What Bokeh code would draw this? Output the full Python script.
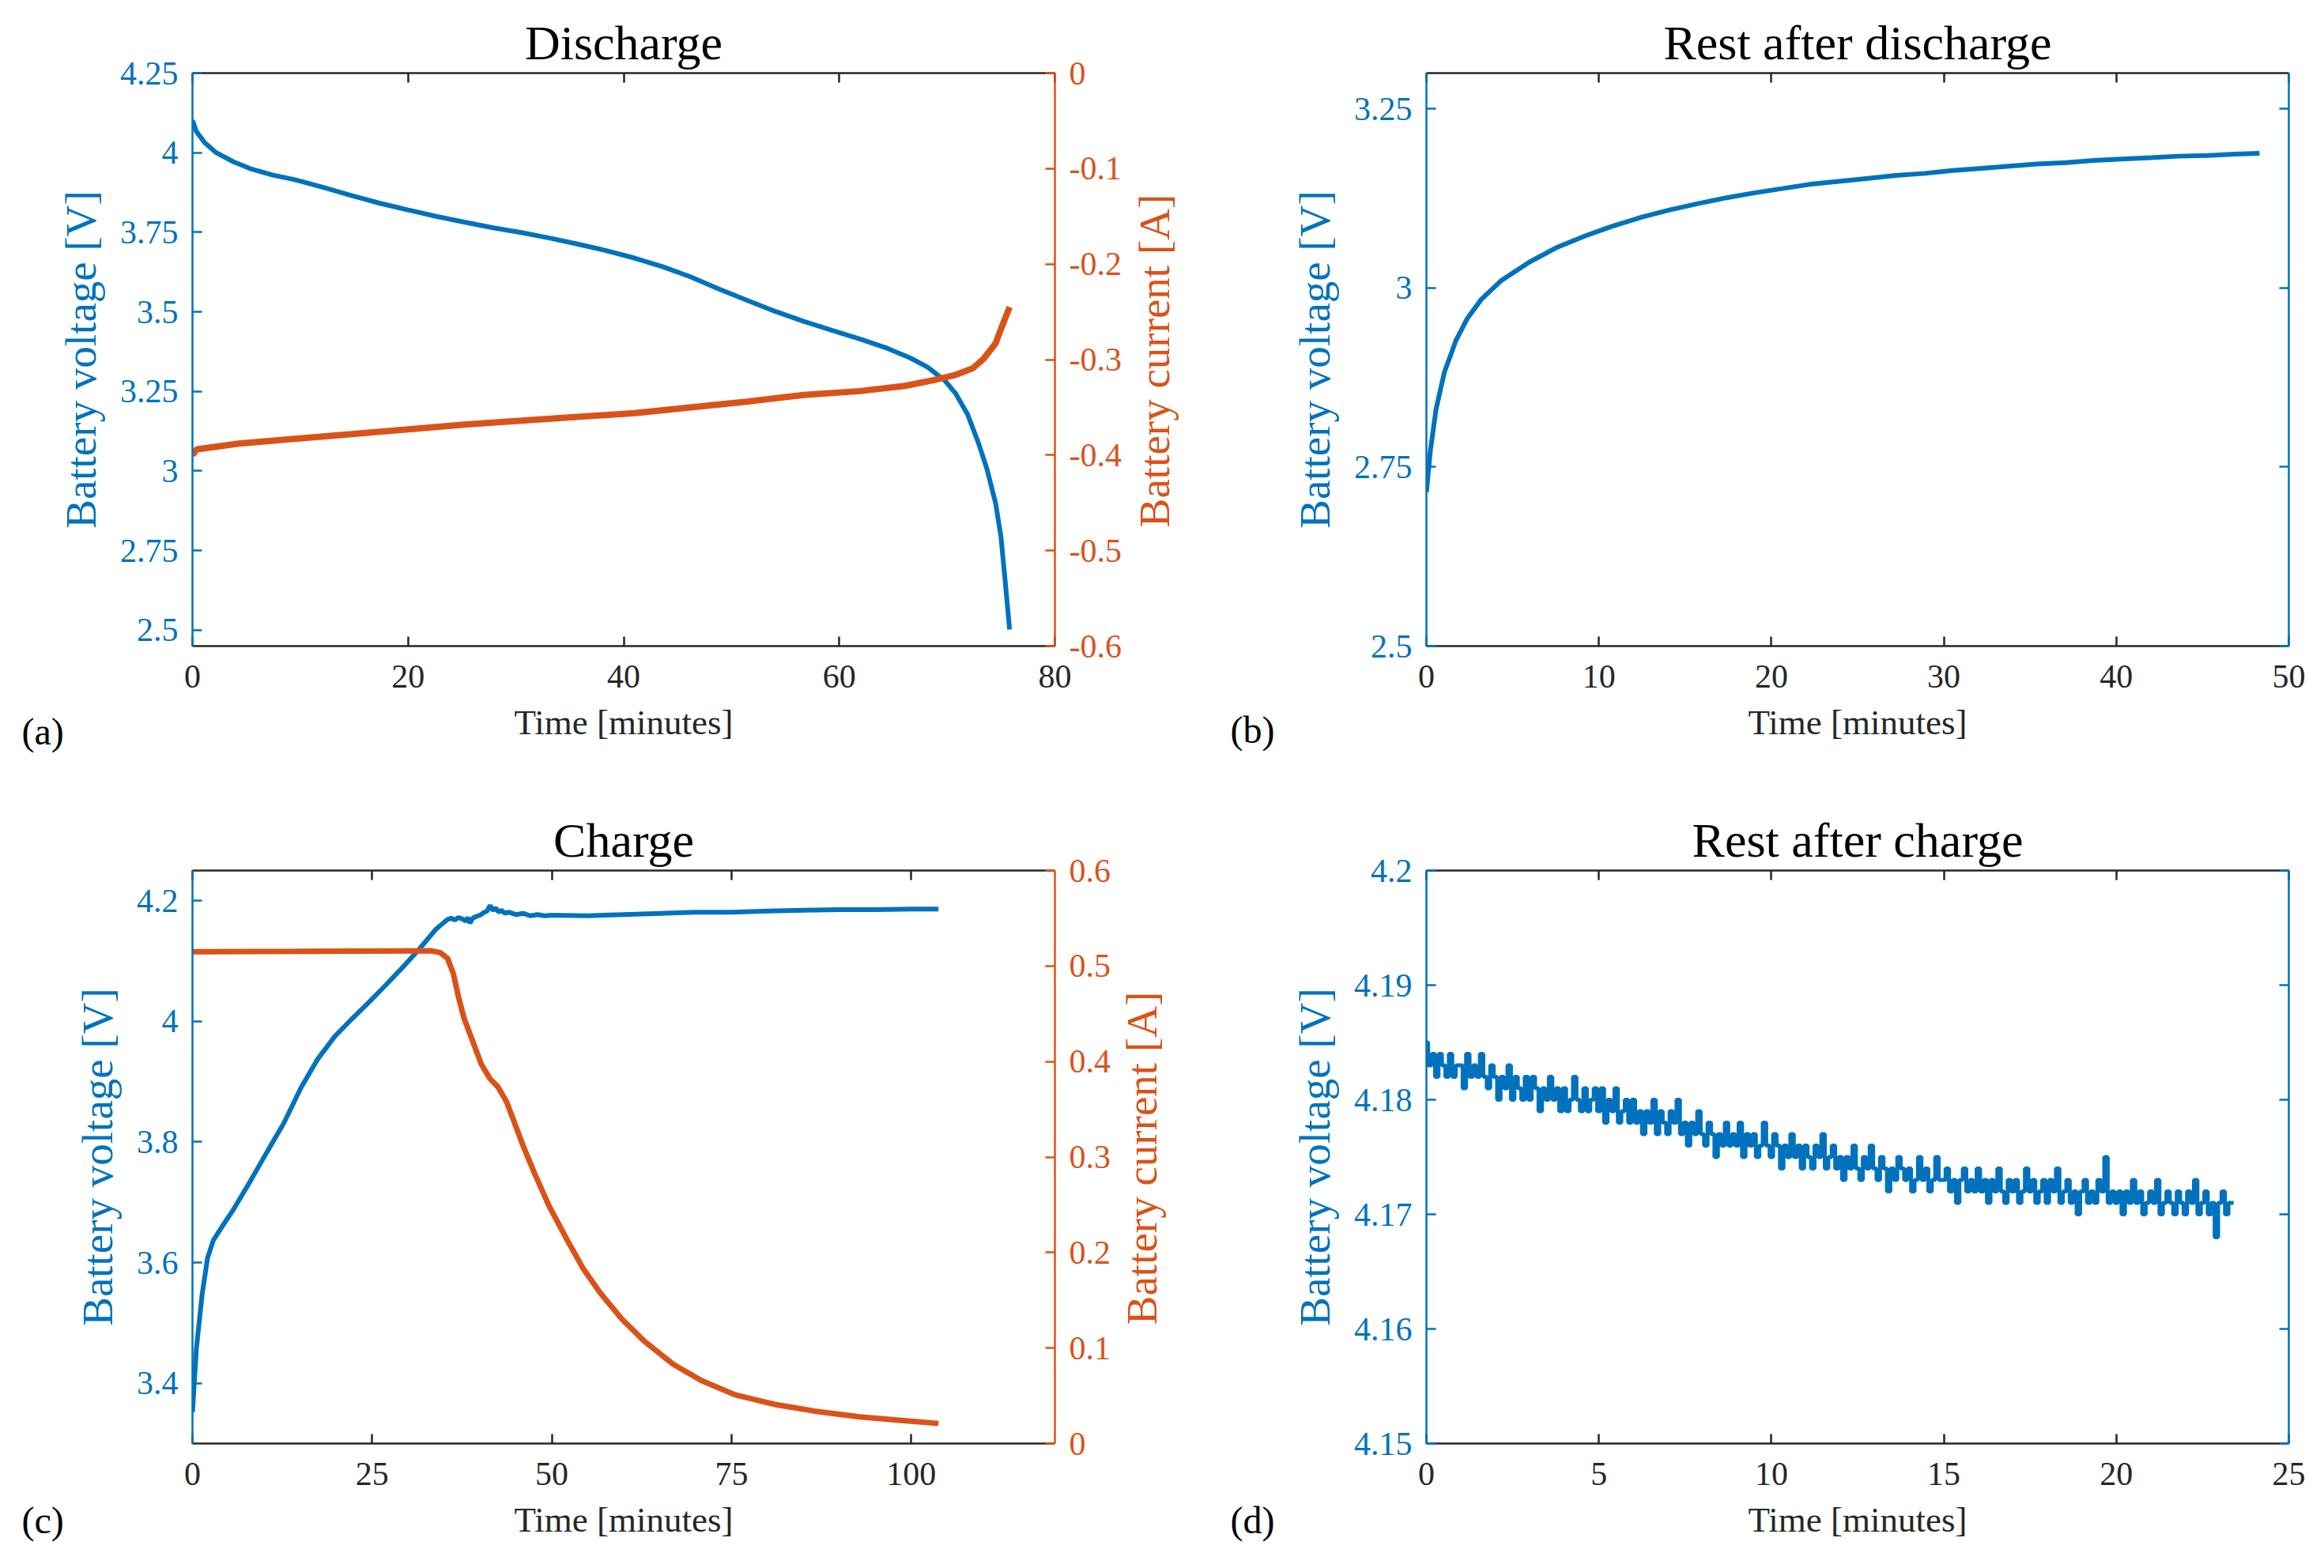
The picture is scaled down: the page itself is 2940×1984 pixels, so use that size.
import math

from bokeh.plotting import figure
from bokeh.models import Range1d, LinearAxis, FixedTicker, CustomJSTickFormatter, Label
from bokeh.layouts import column, row
from bokeh.embed import file_html
from bokeh.resources import INLINE

BLUE = "#0072BD"
ORANGE = "#D95319"
DARK = "#262626"
FONT = "Liberation Serif"

# (a) discharge
dis_t = [0, 0.37, 1.15, 2.2, 3.77, 5.34, 7.4, 9.5, 12.15, 14.8, 17.4, 20.0, 22.6, 25.2, 27.9,
         30.5, 33.1, 35.7, 38.3, 41.0, 43.6, 46.2, 48.8, 51.4, 54.1, 56.7, 59.3, 61.9, 64.5,
         66.6, 68.2, 69.8, 70.8, 71.9, 72.9, 73.7, 74.5, 75.0, 75.4, 75.8]
dis_v = [4.102, 4.066, 4.031, 4.000, 3.972, 3.950, 3.930, 3.915, 3.891, 3.865, 3.841, 3.820,
         3.800, 3.782, 3.764, 3.749, 3.732, 3.713, 3.693, 3.669, 3.642, 3.610, 3.572, 3.537,
         3.501, 3.470, 3.442, 3.415, 3.385, 3.355, 3.326, 3.284, 3.243, 3.178, 3.089, 3.006,
         2.899, 2.793, 2.650, 2.502]
dis_it = [0, 0.4, 4.3, 9.5, 14.8, 20.0, 25.2, 30.5, 35.7, 41.0, 46.2, 51.4, 56.7, 61.9, 66.1,
          68.7, 70.8, 72.4, 73.4, 74.5, 75.1, 75.8]
dis_i = [-0.400, -0.394, -0.388, -0.383, -0.378, -0.373, -0.368, -0.364, -0.360, -0.356,
         -0.350, -0.344, -0.337, -0.333, -0.3275, -0.3216, -0.316, -0.309, -0.299, -0.283,
         -0.265, -0.245]

# (b) rest after discharge
rd_t = [0, 0.23, 0.56, 1.05, 1.70, 2.36, 3.18, 4.32, 5.96, 7.6, 9.23, 10.87, 12.5, 14.1, 15.8,
        17.4, 19.06, 20.7, 22.3, 24.0, 25.6, 27.2, 28.9, 30.5, 32.2, 33.8, 35.4, 37.1, 38.7,
        40.3, 42.0, 43.6, 45.3, 46.9, 48.3]
rd_v = [2.715, 2.773, 2.831, 2.883, 2.926, 2.957, 2.984, 3.010, 3.036, 3.057, 3.073, 3.087,
        3.099, 3.109, 3.118, 3.126, 3.133, 3.139, 3.145, 3.149, 3.153, 3.157, 3.160, 3.164,
        3.167, 3.170, 3.173, 3.175, 3.178, 3.180, 3.182, 3.184, 3.185, 3.187, 3.188]

# (c) charge
ch_t = [0, 0.55, 1.33, 2.1, 2.9, 4.08, 5.65, 8.0, 10.4, 12.7, 15.1, 17.4, 19.8, 22.1, 24.5,
        26.8, 29.2, 31.5, 33.9, 35.5, 36.0, 36.5, 37.0, 37.5, 38.0, 38.3, 38.6, 39.0, 39.5,
        40.0, 40.5, 41.0, 41.4, 41.8, 42.2, 42.6, 43.0, 43.5, 44.0, 45.0, 46.0, 47.0, 48.0,
        49.0, 50.0, 55, 60, 65, 70, 75, 80, 85, 90, 95, 100, 103.8]
ch_v = [3.352, 3.458, 3.546, 3.608, 3.637, 3.659, 3.687, 3.734, 3.784, 3.831, 3.890, 3.937,
        3.975, 4.003, 4.031, 4.059, 4.089, 4.119, 4.153, 4.169, 4.171, 4.168, 4.172, 4.170,
        4.166, 4.172, 4.163, 4.171, 4.174, 4.176, 4.180, 4.183, 4.192, 4.184, 4.188, 4.181,
        4.184, 4.179, 4.181, 4.177, 4.179, 4.175, 4.177, 4.175, 4.176, 4.175, 4.177, 4.179,
        4.181, 4.181, 4.183, 4.184, 4.185, 4.185, 4.186, 4.186]
ch_it = [0, 14.3, 33.1, 34.5, 35.5, 36.3, 37.0, 37.8, 39.0, 40.2, 41.4, 42.5, 43.7, 44.9, 46.1,
         47.6, 49.6, 52.0, 54.3, 56.7, 59.8, 62.9, 66.9, 70.8, 75.5, 81.0, 86.5, 92.8, 98.3,
         103.8]
ch_i = [0.515, 0.5154, 0.516, 0.514, 0.508, 0.492, 0.468, 0.445, 0.421, 0.397, 0.382, 0.3735,
        0.358, 0.334, 0.310, 0.283, 0.249, 0.215, 0.184, 0.158, 0.130, 0.107, 0.083, 0.066,
        0.051, 0.041, 0.034, 0.028, 0.0245, 0.021]

# (d) rest after charge, voltage in mV above 4 V, one reading every 0.1 min
rc_t = [0.0, 0.1, 0.2, 0.3, 0.4, 0.5, 0.6, 0.7, 0.8, 0.9,
        1.0, 1.1, 1.2, 1.3, 1.4, 1.5, 1.6, 1.7, 1.8, 1.9,
        2.0, 2.1, 2.2, 2.3, 2.4, 2.5, 2.6, 2.7, 2.8, 2.9,
        3.0, 3.1, 3.2, 3.3, 3.4, 3.5, 3.6, 3.7, 3.8, 3.9,
        4.0, 4.1, 4.2, 4.3, 4.4, 4.5, 4.6, 4.7, 4.8, 4.9,
        5.0, 5.1, 5.2, 5.3, 5.4, 5.5, 5.6, 5.7, 5.8, 5.9,
        6.0, 6.1, 6.2, 6.3, 6.4, 6.5, 6.6, 6.7, 6.8, 6.9,
        7.0, 7.1, 7.2, 7.3, 7.4, 7.5, 7.6, 7.7, 7.8, 7.9,
        8.0, 8.1, 8.2, 8.3, 8.4, 8.5, 8.6, 8.7, 8.8, 8.9,
        9.0, 9.1, 9.2, 9.3, 9.4, 9.5, 9.6, 9.7, 9.8, 9.9,
        10.0, 10.1, 10.2, 10.3, 10.4, 10.5, 10.6, 10.7, 10.8, 10.9,
        11.0, 11.1, 11.2, 11.3, 11.4, 11.5, 11.6, 11.7, 11.8, 11.9,
        12.0, 12.1, 12.2, 12.3, 12.4, 12.5, 12.6, 12.7, 12.8, 12.9,
        13.0, 13.1, 13.2, 13.3, 13.4, 13.5, 13.6, 13.7, 13.8, 13.9,
        14.0, 14.1, 14.2, 14.3, 14.4, 14.5, 14.6, 14.7, 14.8, 14.9,
        15.0, 15.1, 15.2, 15.3, 15.4, 15.5, 15.6, 15.7, 15.8, 15.9,
        16.0, 16.1, 16.2, 16.3, 16.4, 16.5, 16.6, 16.7, 16.8, 16.9,
        17.0, 17.1, 17.2, 17.3, 17.4, 17.5, 17.6, 17.7, 17.8, 17.9,
        18.0, 18.1, 18.2, 18.3, 18.4, 18.5, 18.6, 18.7, 18.8, 18.9,
        19.0, 19.1, 19.2, 19.3, 19.4, 19.5, 19.6, 19.7, 19.8, 19.9,
        20.0, 20.1, 20.2, 20.3, 20.4, 20.5, 20.6, 20.7, 20.8, 20.9,
        21.0, 21.1, 21.2, 21.3, 21.4, 21.5, 21.6, 21.7, 21.8, 21.9,
        22.0, 22.1, 22.2, 22.3, 22.4, 22.5, 22.6, 22.7, 22.8, 22.9,
        23.0, 23.1, 23.2, 23.3, 23.4]
rc_mv = [185, 183, 184, 182, 184, 183, 182, 184, 182, 183,
         183, 181, 184, 182, 183, 182, 184, 182, 181, 183,
         182, 180, 182, 181, 183, 180, 182, 181, 180, 182,
         180, 182, 181, 179, 181, 180, 182, 180, 181, 179,
         181, 179, 180, 182, 180, 179, 181, 179, 180, 181,
         179, 181, 178, 180, 179, 181, 178, 179, 180, 178,
         180, 178, 179, 177, 179, 178, 180, 177, 179, 178,
         177, 179, 178, 180, 177, 178, 176, 178, 177, 179,
         177, 176, 178, 177, 175, 177, 176, 178, 176, 177,
         176, 178, 175, 177, 176, 177, 175, 176, 178, 176,
         175, 177, 176, 174, 176, 175, 177, 175, 176, 174,
         176, 175, 174, 176, 175, 177, 174, 175, 176, 174,
         175, 173, 175, 174, 176, 174, 173, 175, 174, 176,
         174, 173, 175, 174, 172, 174, 173, 175, 174, 173,
         174, 172, 173, 175, 173, 174, 172, 173, 175, 173,
         173, 174, 172, 173, 171, 173, 174, 172, 173, 172,
         174, 172, 173, 171, 173, 172, 174, 172, 171, 173,
         172, 173, 171, 172, 174, 172, 173, 171, 172, 173,
         171, 173, 172, 174, 171, 172, 173, 171, 172, 170,
         172, 173, 171, 172, 171, 173, 172, 175, 171, 172,
         171, 172, 170, 172, 171, 173, 171, 172, 170, 171,
         172, 171, 173, 170, 171, 172, 171, 170, 172, 171,
         170, 172, 171, 173, 170, 171, 172, 170, 171, 168,
         171, 172, 170, 171, 171]
rc_v = [4 + m / 1000 for m in rc_mv]

FMT = "return tick.toString();"


def style_axis(ax, color, ticks, labels=True, label=None, label_size="55px"):
    ax.ticker = FixedTicker(ticks=ticks)
    ax.minor_tick_line_color = None
    ax.axis_line_color = color
    ax.axis_line_width = 2.5
    ax.major_tick_line_color = color
    ax.major_tick_line_width = 2.5
    ax.major_tick_in = 12
    ax.major_tick_out = 0
    ax.major_label_text_color = color
    ax.major_label_text_font = FONT
    if labels:
        ax.major_label_text_font_size = "42px"
        ax.major_label_standoff = 18
        ax.formatter = CustomJSTickFormatter(code=FMT)
    else:
        ax.major_label_text_font_size = "1px"
        ax.major_label_standoff = 0
        ax.formatter = CustomJSTickFormatter(code="return '';")
    if label:
        ax.axis_label = label
        ax.axis_label_text_font = FONT
        ax.axis_label_text_font_size = label_size
        ax.axis_label_text_font_style = "normal"
        ax.axis_label_text_color = color
        ax.axis_label_standoff = 16


def panel(title, xr, yr, xticks, yticks, border_left, border_right, border_top, border_bottom):
    p = figure(frame_width=1091, frame_height=725, x_range=Range1d(*xr), y_range=Range1d(*yr),
               output_backend="svg", toolbar_location=None,
               min_border_left=border_left, min_border_right=border_right,
               min_border_top=border_top, min_border_bottom=border_bottom)
    p.title.text = title
    p.title.align = "center"
    p.title.text_font = FONT
    p.title.text_font_size = "62px"
    p.title.text_font_style = "normal"
    p.title.text_color = "black"
    p.outline_line_color = None
    p.xgrid.visible = False
    p.ygrid.visible = False
    style_axis(p.xaxis[0], DARK, xticks, label="Time [minutes]", label_size="45px")
    p.xaxis[0].axis_label_text_color = DARK
    p.xaxis[0].major_label_text_color = DARK
    p.xaxis[0].major_label_standoff = 24
    style_axis(p.yaxis[0], BLUE, yticks, label="Battery voltage [V]")
    top = LinearAxis()
    style_axis(top, DARK, xticks, labels=False)
    p.add_layout(top, "above")
    return p


# texts outside the frame go into a side panel so they are not clipped
def tag(p, side, text, x, y, color="black", size="48px", angle=0.0):
    p.add_layout(Label(x=x, y=y, x_units="canvas", y_units="canvas", text=text,
                       angle=angle, text_font=FONT, text_font_size=size,
                       text_color=color, text_baseline="middle",
                       text_align="center" if angle else "left"), side)


# (a)
pa = panel("Discharge", (0, 80), (2.45, 4.25), [0, 20, 40, 60, 80],
           [2.5, 2.75, 3, 3.25, 3.5, 3.75, 4, 4.25], 243, 165, 92, 190)
pa.extra_y_ranges = {"cur": Range1d(-0.6, 0)}
ra = LinearAxis(y_range_name="cur")
style_axis(ra, ORANGE, [-0.6, -0.5, -0.4, -0.3, -0.2, -0.1, 0])
pa.add_layout(ra, "right")
pa.line(dis_t, dis_v, line_color=BLUE, line_width=6)
pa.line(dis_it, dis_i, line_color=ORANGE, line_width=8, y_range_name="cur")
tag(pa, "left", "(a)", 27, 925)
tag(pa, "right", "Battery current [A]", 1460, 456, ORANGE, "55px", math.pi / 2)

# (b)
pb = panel("Rest after discharge", (0, 50), (2.5, 3.3), [0, 10, 20, 30, 40, 50],
           [2.5, 2.75, 3, 3.25], 305, 25, 92, 190)
rb = LinearAxis()
style_axis(rb, BLUE, [2.5, 2.75, 3, 3.25], labels=False)
pb.add_layout(rb, "right")
pb.line(rd_t, rd_v, line_color=BLUE, line_width=6)
tag(pb, "left", "(b)", 57, 923)

# (c)
pc = panel("Charge", (0, 120), (3.3, 4.25), [0, 25, 50, 75, 100],
           [3.4, 3.6, 3.8, 4, 4.2], 243, 165, 94, 130)
pc.extra_y_ranges = {"cur": Range1d(0, 0.6)}
rcx = LinearAxis(y_range_name="cur")
style_axis(rcx, ORANGE, [0, 0.1, 0.2, 0.3, 0.4, 0.5, 0.6])
pc.add_layout(rcx, "right")
pc.line(ch_t, ch_v, line_color=BLUE, line_width=6)
pc.line(ch_it, ch_i, line_color=ORANGE, line_width=7, y_range_name="cur")
tag(pc, "left", "(c)", 27, 916)
tag(pc, "right", "Battery current [A]", 1444, 458, ORANGE, "55px", math.pi / 2)

# (d)
pd_ = panel("Rest after charge", (0, 25), (4.15, 4.2), [0, 5, 10, 15, 20, 25],
            [4.15, 4.16, 4.17, 4.18, 4.19, 4.2], 305, 25, 94, 130)
rdx = LinearAxis()
style_axis(rdx, BLUE, [4.15, 4.16, 4.17, 4.18, 4.19, 4.2], labels=False)
pd_.add_layout(rdx, "right")
pd_.step(rc_t, rc_v, mode="center", line_color=BLUE, line_width=5)
tag(pd_, "left", "(d)", 57, 916)

layout = column(row(pa, pb), row(pc, pd_))
open("out.html", "w").write(file_html(layout, INLINE))
